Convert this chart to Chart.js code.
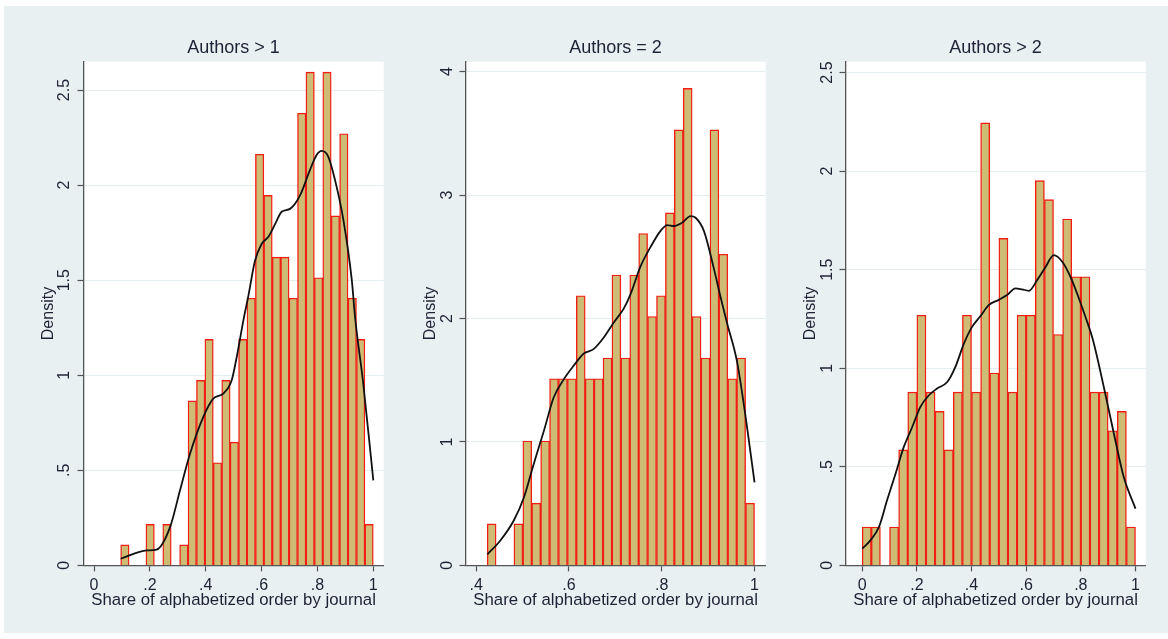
<!DOCTYPE html>
<html>
<head>
<meta charset="utf-8">
<script src="https://cdn.jsdelivr.net/npm/chart.js@4.4.1/dist/chart.umd.min.js"></script>
<style>
  html, body { margin: 0; padding: 0; background: #fff; }
  body { width: 1168px; height: 639px; position: relative; overflow: hidden; }
  #bg { position: absolute; left: 4px; top: 6px; width: 1164px; height: 627px; background: #e8f0f2; }
  canvas { position: absolute; top: 30px; }
</style>
</head>
<body>
<div id="bg"></div>
<canvas id="c1" width="358" height="583" style="left:30px"></canvas>
<canvas id="c2" width="358" height="583" style="left:411.5px"></canvas>
<canvas id="c3" width="358" height="583" style="left:791.5px"></canvas>
<script>
// histogram bins: first edge and width, 30 bins each
var start1 = 0.0955, width1 = 0.03015;
var start2 = 0.4237, width2 = 0.01921;
var start3 = 0, width3 = 1 / 30;

// densities per bin
var dens1 = [0.108, 0, 0, 0.216, 0, 0.216, 0, 0.108, 0.865, 0.973,
             1.189, 0.540, 0.973, 0.648, 1.189, 1.405, 2.162, 1.946, 1.621, 1.621,
             1.405, 2.378, 2.594, 1.513, 2.594, 1.838, 2.270, 1.405, 1.189, 0.216];
var dens2 = [0.336, 0, 0, 0.336, 1.008, 0.504, 1.008, 1.512, 1.512, 1.512,
             2.184, 1.512, 1.512, 1.680, 2.352, 1.680, 2.352, 2.688, 2.016, 2.184,
             2.856, 3.528, 3.864, 2.016, 1.680, 3.528, 2.520, 1.512, 1.680, 0.504];
var dens3 = [0.195, 0.195, 0, 0.195, 0.586, 0.879, 1.269, 0.879, 0.781, 0.586,
             0.879, 1.269, 0.879, 2.245, 0.976, 1.659, 0.879, 1.269, 1.269, 1.952,
             1.855, 1.171, 1.757, 1.464, 1.464, 0.879, 0.879, 0.683, 0.781, 0.195];

// kernel density curves
var kx1 = [0.0955, 0.189, 0.224, 0.272, 0.308, 0.344, 0.391, 0.427, 0.463, 0.493, 0.511, 0.535, 0.553, 0.576,
           0.600, 0.625, 0.650, 0.672, 0.702, 0.738, 0.773, 0.797, 0.815, 0.839, 0.863, 0.893, 0.923, 0.935, 0.964, 1.0];
var ky1 = [0.035, 0.079, 0.083, 0.200, 0.395, 0.588, 0.780, 0.877, 0.904, 0.974, 1.096, 1.290, 1.420, 1.600,
           1.690, 1.730, 1.800, 1.860, 1.875, 1.947, 2.079, 2.158, 2.180, 2.149, 2.026, 1.816, 1.500, 1.300, 0.956, 0.447];
var kx2 = [0.424, 0.452, 0.481, 0.503, 0.524, 0.546, 0.567, 0.589, 0.610, 0.632, 0.653, 0.675, 0.697, 0.718, 0.733,
           0.754, 0.776, 0.797, 0.812, 0.826, 0.844, 0.862, 0.873, 0.891, 0.912, 0.927, 0.941, 0.962, 0.984, 1.0];
var ky2 = [0.089, 0.202, 0.364, 0.552, 0.822, 1.091, 1.360, 1.509, 1.617, 1.716, 1.752, 1.846, 1.970, 2.080, 2.200,
           2.420, 2.580, 2.708, 2.757, 2.749, 2.775, 2.829, 2.816, 2.708, 2.410, 2.170, 1.960, 1.657, 1.118, 0.673];
var kx3 = [0, 0.030, 0.061, 0.091, 0.122, 0.152, 0.183, 0.213, 0.244, 0.274, 0.311, 0.341, 0.372, 0.402, 0.433, 0.463,
           0.500, 0.530, 0.561, 0.585, 0.610, 0.640, 0.671, 0.701, 0.732, 0.762, 0.793, 0.817, 0.845, 0.884, 0.921, 0.957, 1.0];
var ky3 = [0.085, 0.127, 0.194, 0.330, 0.465, 0.600, 0.702, 0.804, 0.863, 0.897, 0.930, 1.007, 1.125, 1.210, 1.265, 1.320,
           1.347, 1.371, 1.405, 1.400, 1.393, 1.447, 1.514, 1.574, 1.540, 1.463, 1.354, 1.260, 1.140, 0.905, 0.668, 0.448, 0.288];

// axis ticks
var xTicks1 = [0, 0.2, 0.4, 0.6, 0.8, 1];
var xTicks2 = [0.4, 0.6, 0.8, 1];
var xTicks3 = [0, 0.2, 0.4, 0.6, 0.8, 1];
var yTicks1 = [0, 0.5, 1, 1.5, 2, 2.5];
var yTicks2 = [0, 1, 2, 3, 4];
var yTicks3 = [0, 0.5, 1, 1.5, 2, 2.5];

var titles = ['Authors > 1', 'Authors = 2', 'Authors > 2'];

var FONT = '"Liberation Sans", Arial, sans-serif';
var TXT = '#1e2235';
var AXIS = '#555555';

function fmt(v) {
    var s = String(Math.round(v * 100) / 100);
    return s.replace(/^0\./, '.');
}

var plotBg = {
    id: 'plotBg',
    beforeDraw: function (chart) {
        var a = chart.chartArea, ctx = chart.ctx;
        ctx.save();
        ctx.fillStyle = '#ffffff';
        ctx.fillRect(a.left, a.top, a.right - a.left, a.bottom - a.top);
        ctx.restore();
    }
};

function makePanel(id, title, start, width, dens, kx, ky, xmin, xmax, ymax, xTicks, yTicks, yPad) {
    var bars = [];
    for (var i = 0; i < dens.length; i++) {
        bars.push({ x: start + width * (i + 0.5), y: dens[i] });
    }
    var curve = [];
    for (var j = 0; j < kx.length; j++) {
        curve.push({ x: kx[j], y: ky[j] });
    }

    new Chart(document.getElementById(id), {
        type: 'bar',
        data: {
            datasets: [
                {
                    type: 'line',
                    data: curve,
                    borderColor: '#111111',
                    borderWidth: 1.8,
                    pointRadius: 0,
                    cubicInterpolationMode: 'monotone',
                    fill: false,
                    order: 0
                },
                {
                    type: 'bar',
                    data: bars,
                    backgroundColor: 'rgb(207,188,116)',
                    borderColor: 'rgb(242,30,20)',
                    borderWidth: 1.4,
                    barPercentage: 1,
                    categoryPercentage: 1,
                    order: 1
                }
            ]
        },
        options: {
            responsive: false,
            animation: false,
            layout: { padding: { top: 7.2, left: 8.5, right: 4.3, bottom: 3 } },
            plugins: {
                legend: { display: false },
                tooltip: { enabled: false },
                title: {
                    display: true,
                    text: title,
                    fullSize: false,
                    color: TXT,
                    font: { family: FONT, size: 18, weight: 'normal' },
                    padding: { top: 0, bottom: 2.9 }
                }
            },
            scales: {
                x: {
                    type: 'linear',
                    min: xmin,
                    max: xmax,
                    offset: false,
                    afterBuildTicks: function (s) { s.ticks = xTicks.map(function (v) { return { value: v }; }); },
                    afterFit: function (s) { s.height = 44.6; },
                    grid: { offset: false, drawOnChartArea: false, tickLength: 6, tickColor: AXIS, tickWidth: 1.2 },
                    border: { color: AXIS, width: 1.3 },
                    ticks: {
                        padding: 5, color: TXT, maxRotation: 0, autoSkip: false,
                        font: { family: FONT, size: 16 },
                        callback: fmt
                    },
                    title: {
                        display: true, text: 'Share of alphabetized order by journal',
                        color: TXT, padding: 0, font: { family: FONT, size: 16.8 }
                    }
                },
                y: {
                    min: 0,
                    max: ymax,
                    afterBuildTicks: function (s) { s.ticks = yTicks.map(function (v) { return { value: v }; }); },
                    afterFit: function (s) { s.width = 45; },
                    grid: { color: '#e4edf0', lineWidth: 1, tickLength: 6, tickColor: AXIS, tickWidth: 1.2 },
                    border: { color: AXIS, width: 1.3 },
                    ticks: {
                        minRotation: 90, maxRotation: 90, crossAlign: 'center', padding: yPad,
                        color: TXT, autoSkip: false,
                        font: { family: FONT, size: 16 },
                        callback: fmt
                    },
                    title: {
                        display: true, text: 'Density',
                        color: TXT, padding: 0, font: { family: FONT, size: 16 }
                    }
                }
            }
        },
        plugins: [plotBg]
    });
}

makePanel('c1', titles[0], start1, width1, dens1, kx1, ky1, -0.0376, 1.0372, 2.649, xTicks1, yTicks1, 1.4);
makePanel('c2', titles[1], start2, width2, dens2, kx2, ky2, 0.3769, 1.0241, 4.08, xTicks2, yTicks2, 7.8);
makePanel('c3', titles[2], start3, width3, dens3, kx3, ky3, -0.0611, 1.0373, 2.555, xTicks3, yTicks3, 1.0);
</script>
</body>
</html>
